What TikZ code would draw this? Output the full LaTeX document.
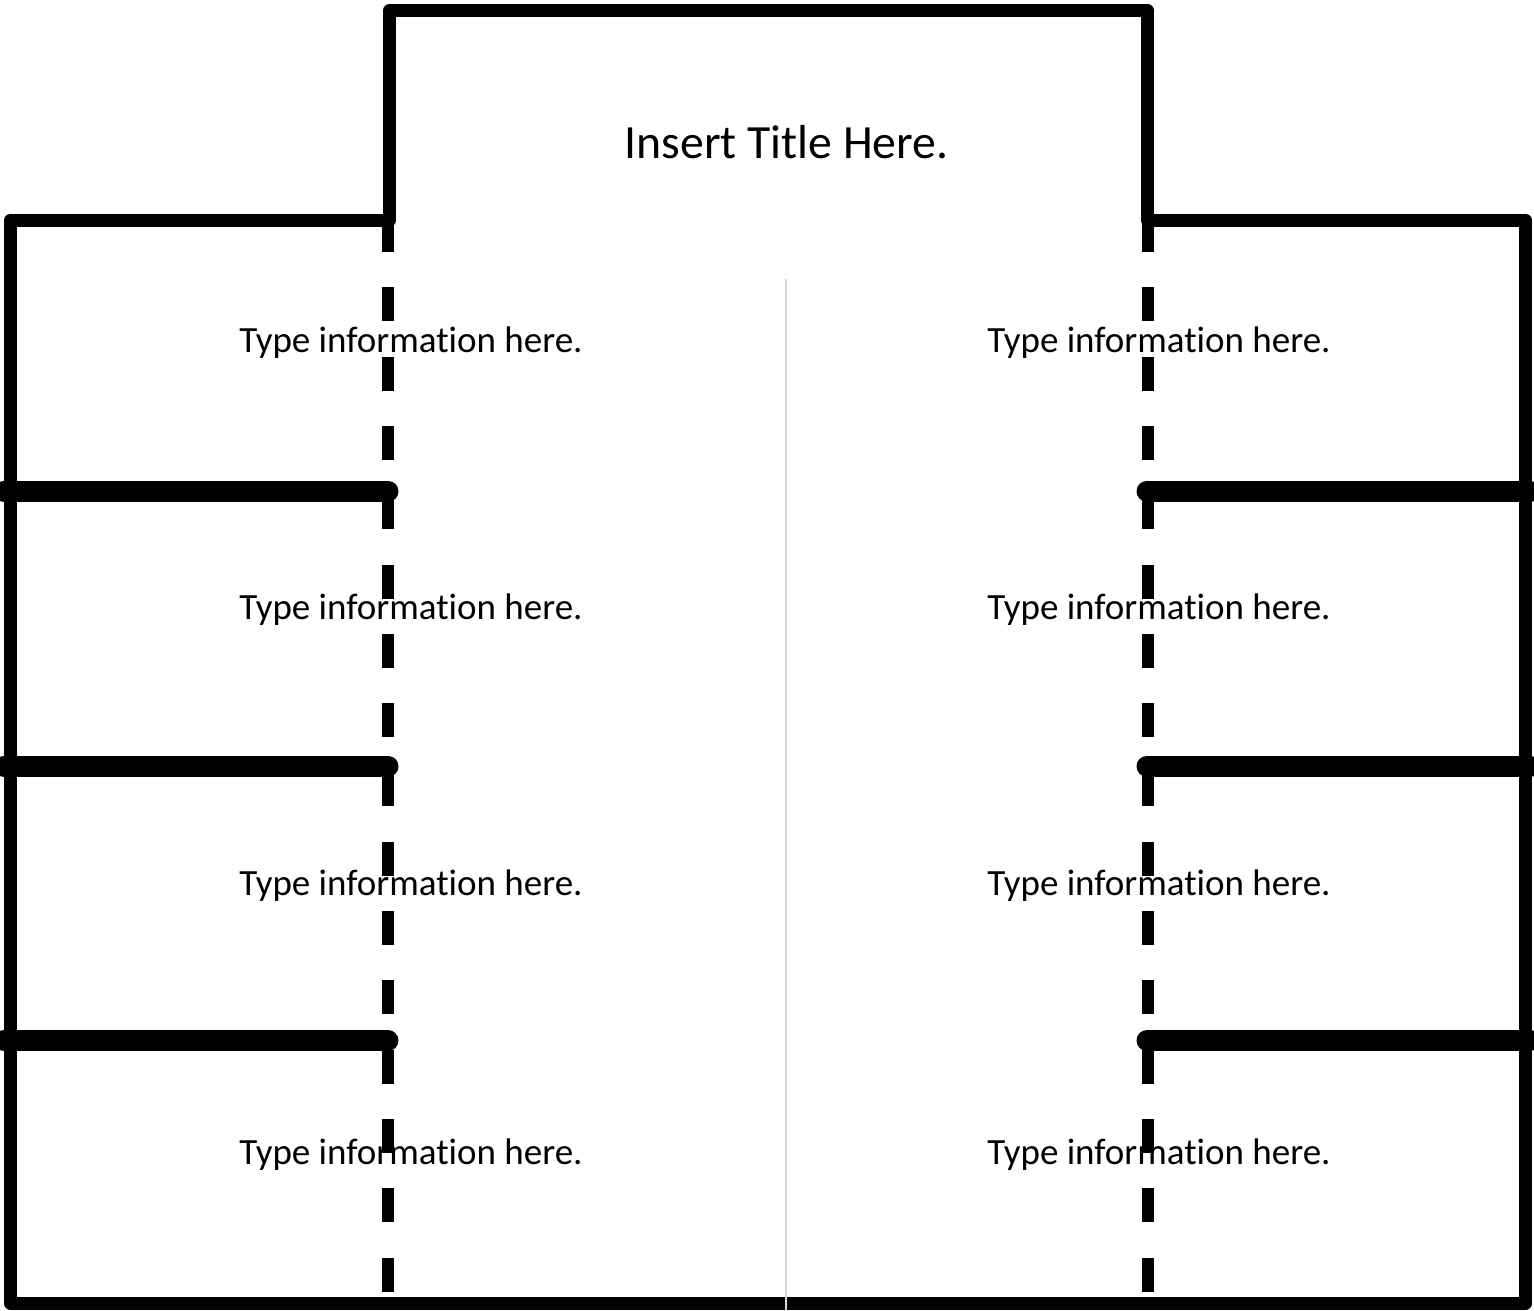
\documentclass[tikz,border=0pt]{standalone}
\usepackage{fontspec}
\setmainfont[Ligatures={NoCommon,NoContextual},Contextuals=NoAlternate]{Carlito}
\newcommand{\myinfo}{Type informat\kern0pt ion here.}
\begin{document}
\begin{tikzpicture}[x=1pt,y=-1pt,
  frameline/.style={line width=13pt,line join=round,line cap=round,black},
  divider/.style={line width=21pt,line cap=round,black},
  dashline/.style={line width=12pt,black,dash pattern=on 34pt off 35.3pt},
  midline/.style={line width=1.6pt,draw={rgb,255:red,215;green,215;blue,215}},
  infotext/.style={anchor=base,inner sep=0pt,font=\fontsize{37}{40}\selectfont},
  titletext/.style={anchor=base,inner sep=0pt,font=\fontsize{47.7}{52}\selectfont}]
\useasboundingbox (0,0) rectangle (1534,1311);
% frame corners
\coordinate (bl) at (10.5,1303.5);
\coordinate (tl) at (10.5,220);
\coordinate (tli) at (389.5,220);
\coordinate (ttl) at (389.5,10.5);
\coordinate (ttr) at (1147.5,10.5);
\coordinate (tri) at (1147.5,220);
\coordinate (tr) at (1525.5,220);
\coordinate (br) at (1525.5,1303.5);
% texts
\node[titletext] (title) at (786.5,158) {Insert Title Here.};
\node[infotext] (l1) at (411,352) {\myinfo};
\node[infotext] (l2) at (411,619) {\myinfo};
\node[infotext] (l3) at (411,895) {\myinfo};
\node[infotext] (l4) at (411,1164) {\myinfo};
\node[infotext] (r1) at (1159,352) {\myinfo};
\node[infotext] (r2) at (1159,619) {\myinfo};
\node[infotext] (r3) at (1159,895) {\myinfo};
\node[infotext] (r4) at (1159,1164) {\myinfo};
% outer frame
\draw[frameline] (bl) -- (tl) -- (tli) -- (ttl) -- (ttr) -- (tri) -- (tr) -- (br) -- cycle;
% dashed lines
\coordinate (dlt) at (387.5,218);
\coordinate (dlb) at (387.5,1300);
\coordinate (drt) at (1148,218);
\coordinate (drb) at (1148,1300);
\draw[dashline] (dlt) -- (dlb);
\draw[dashline] (drt) -- (drb);
% dividers
\foreach \yy/\nm in {491/a,766/b,1040.5/c}{
  \coordinate (dl\nm a) at (4,\yy);
  \coordinate (dl\nm b) at (388,\yy);
  \coordinate (dr\nm a) at (1147,\yy);
  \coordinate (dr\nm b) at (1530,\yy);
  \draw[divider] (dl\nm a) -- (dl\nm b);
  \draw[divider] (dr\nm a) -- (dr\nm b);
}
% centre line
\coordinate (mt) at (786,279);
\coordinate (mb) at (786,1311);
\draw[midline] (mt) -- (mb);
\end{tikzpicture}
\end{document}
